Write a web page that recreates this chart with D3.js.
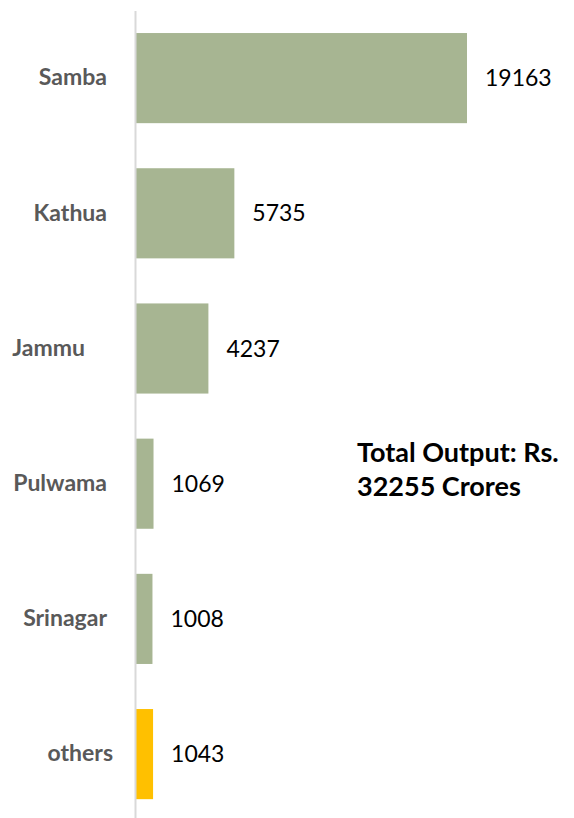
<!DOCTYPE html>
<html>
<head>
<meta charset="utf-8">
<script src="https://cdn.jsdelivr.net/npm/d3@7"></script>
<style>
  body { margin: 0; background: #fff; }
  svg { display: block; }
</style>
</head>
<body>
<div id="chart"></div>
<script>
var districts = ["Samba", "Kathua", "Jammu", "Pulwama", "Srinagar", "others"];
var output = [19163, 5735, 4237, 1069, 1008, 1043];
var totalLines = ["Total Output: Rs.", "32255 Crores"];

var width = 574;
var height = 818;

// label nudges to mimic the original layout
var labelShift = { "Jammu": -22, "others": 6 };

var data = districts.map(function(d, i) { return { name: d, value: output[i] }; });

var svg = d3.select("#chart")
    .append("svg")
    .attr("width", width)
    .attr("height", height);

var x = d3.scaleLinear()
    .domain([0, d3.max(output)])
    .range([135, 467]);

var y = d3.scaleBand()
    .domain(districts)
    .range([10.5, 821.7])
    .paddingInner(1 / 3)
    .paddingOuter(1 / 6);

svg.selectAll("rect.bar")
    .data(data)
    .enter().append("rect")
    .attr("class", "bar")
    .attr("x", x(0) + 1)
    .attr("y", function(d) { return y(d.name); })
    .attr("width", function(d) { return x(d.value) - x(0) - 1; })
    .attr("height", y.bandwidth())
    .attr("fill", function(d) { return d.name == "others" ? "#ffc000" : "#a7b592"; });

var axis = svg.append("g")
    .attr("transform", "translate(" + x(0) + ",0)")
    .call(d3.axisLeft(y).tickSize(0).tickPadding(28).tickSizeOuter(0));

axis.select(".domain")
    .attr("stroke", "#d9d9d9")
    .attr("stroke-width", 2);

axis.selectAll(".tick text")
    .attr("dx", function(d) { return labelShift[d] || 0; })
    .style("font-family", "Lato, 'Open Sans', sans-serif")
    .style("font-weight", "bold")
    .style("font-size", "23px")
    .style("fill", "#595959");

svg.selectAll("text.val")
    .data(data)
    .enter().append("text")
    .attr("class", "val")
    .attr("x", function(d) { return x(d.value) + 18; })
    .attr("y", function(d) { return y(d.name) + y.bandwidth() / 2; })
    .attr("dy", "0.35em")
    .style("font-family", "Lato, 'Open Sans', sans-serif")
    .style("font-size", "23px")
    .style("fill", "#000")
    .text(function(d) { return d.value; });

svg.append("text")
    .attr("x", 357)
    .attr("y", 462)
    .style("font-family", "Lato, 'Open Sans', sans-serif")
    .style("font-weight", "bold")
    .style("font-size", "27px")
    .style("fill", "#000")
    .selectAll("tspan")
    .data(totalLines)
    .enter().append("tspan")
    .attr("x", 357)
    .attr("dy", function(d, i) { return i == 0 ? 0 : 34; })
    .text(function(d) { return d; });
</script>
</body>
</html>
